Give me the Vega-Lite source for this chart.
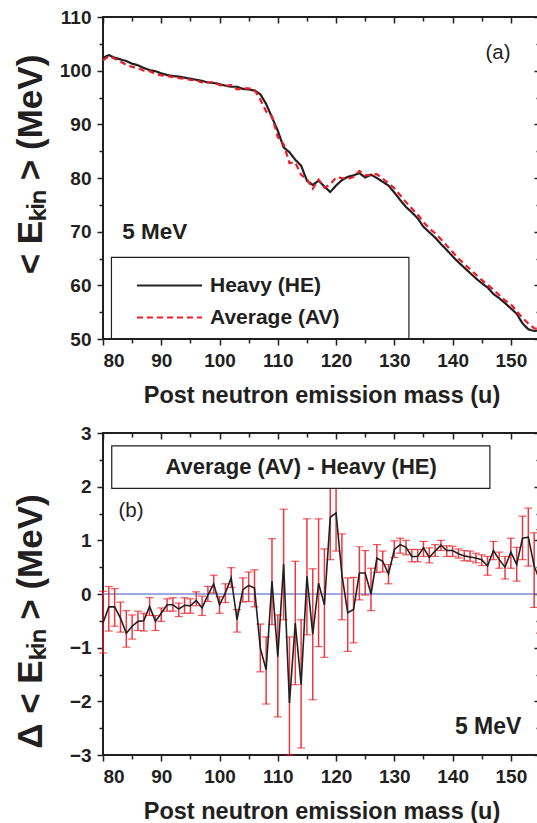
{
  "$schema": "https://vega.github.io/schema/vega-lite/v6.json",
  "padding": {"left": 12, "top": 7, "right": 0, "bottom": 0},
  "background": "white",
  "config": {
    "font": "Liberation Sans",
    "view": {"stroke": "#231f20", "strokeWidth": 2},
    "concat": {"spacing": 15},
    "axis": {
      "labelFont": "Liberation Sans", "labelFontSize": 19, "labelFontWeight": "bold", "labelColor": "#231f20",
      "titleFont": "Liberation Sans", "titleFontSize": 23.5, "titleFontWeight": "bold", "titleColor": "#231f20",
      "tickColor": "#231f20", "tickWidth": 1.5, "tickSize": 6, "domain": false, "grid": false, "labelPadding": 6
    }
  },
  "datasets": {
    "E": [
      {"m":80,"HE":102.4,"AV":101.9},{"m":81,"HE":102.9,"AV":102.7},{"m":82,"HE":102.4,"AV":102.2},{"m":83,"HE":102.1,"AV":101.7},
      {"m":84,"HE":101.8,"AV":101.1},{"m":85,"HE":101.3,"AV":100.7},{"m":86,"HE":101.0,"AV":100.5},{"m":87,"HE":100.5,"AV":100.0},
      {"m":88,"HE":100.1,"AV":99.9},{"m":89,"HE":99.9,"AV":99.4},{"m":90,"HE":99.5,"AV":99.1},{"m":91,"HE":99.2,"AV":99.0},
      {"m":92,"HE":99.0,"AV":98.8},{"m":93,"HE":98.9,"AV":98.6},{"m":94,"HE":98.7,"AV":98.5},{"m":95,"HE":98.5,"AV":98.3},
      {"m":96,"HE":98.3,"AV":98.2},{"m":97,"HE":98.1,"AV":97.8},{"m":98,"HE":97.8,"AV":97.8},{"m":99,"HE":97.7,"AV":97.9},
      {"m":100,"HE":97.5,"AV":97.3},{"m":101,"HE":97.2,"AV":97.2},{"m":102,"HE":97.0,"AV":97.3},{"m":103,"HE":97.0,"AV":96.5},
      {"m":104,"HE":96.6,"AV":96.7},{"m":105,"HE":96.5,"AV":96.7},{"m":106,"HE":96.3,"AV":96.4},{"m":107,"HE":95.6,"AV":94.6},
      {"m":108,"HE":93.8,"AV":92.4},{"m":109,"HE":91.3,"AV":91.5},{"m":110,"HE":88.8,"AV":87.6},{"m":111,"HE":85.7,"AV":86.3},
      {"m":112,"HE":84.8,"AV":82.8},{"m":113,"HE":83.4,"AV":82.9},{"m":114,"HE":82.3,"AV":80.6},{"m":115,"HE":79.5,"AV":79.8},
      {"m":116,"HE":78.7,"AV":78.0},{"m":117,"HE":79.5,"AV":79.7},{"m":118,"HE":78.4,"AV":78.2},{"m":119,"HE":77.4,"AV":78.8},
      {"m":120,"HE":78.6,"AV":80.1},{"m":121,"HE":79.6,"AV":80.0},{"m":122,"HE":80.2,"AV":79.8},{"m":123,"HE":80.5,"AV":80.2},
      {"m":124,"HE":80.9,"AV":81.3},{"m":125,"HE":80.1,"AV":80.5},{"m":126,"HE":80.6,"AV":80.6},{"m":127,"HE":80.0,"AV":80.7},
      {"m":128,"HE":79.3,"AV":79.9},{"m":129,"HE":78.6,"AV":79.0},{"m":130,"HE":77.3,"AV":78.1},{"m":131,"HE":75.9,"AV":76.8},
      {"m":132,"HE":74.6,"AV":75.5},{"m":133,"HE":73.6,"AV":74.3},{"m":134,"HE":72.5,"AV":73.2},{"m":135,"HE":70.9,"AV":71.8},
      {"m":136,"HE":69.9,"AV":70.6},{"m":137,"HE":68.9,"AV":69.7},{"m":138,"HE":67.7,"AV":68.6},{"m":139,"HE":66.6,"AV":67.4},
      {"m":140,"HE":65.4,"AV":66.2},{"m":141,"HE":64.3,"AV":65.0},{"m":142,"HE":63.3,"AV":64.0},{"m":143,"HE":62.3,"AV":63.0},
      {"m":144,"HE":61.3,"AV":62.0},{"m":145,"HE":60.4,"AV":61.0},{"m":146,"HE":59.6,"AV":60.1},{"m":147,"HE":58.4,"AV":59.2},
      {"m":148,"HE":57.6,"AV":58.2},{"m":149,"HE":56.7,"AV":57.2},{"m":150,"HE":55.7,"AV":56.5},{"m":151,"HE":54.7,"AV":55.2},
      {"m":152,"HE":52.9,"AV":53.9},{"m":153,"HE":51.8,"AV":52.9},{"m":154,"HE":51.5,"AV":52.0},{"m":155,"HE":51.6,"AV":51.8}
    ],
    "D": [
      {"m":80,"d":-0.54,"lo":-1.10,"hi":0.05},{"m":81,"d":-0.24,"lo":-0.69,"hi":0.14},{"m":82,"d":-0.24,"lo":-0.60,"hi":0.10},
      {"m":83,"d":-0.45,"lo":-0.71,"hi":-0.15},{"m":84,"d":-0.73,"lo":-0.99,"hi":-0.31},{"m":85,"d":-0.60,"lo":-0.84,"hi":-0.39},
      {"m":86,"d":-0.51,"lo":-0.68,"hi":-0.32},{"m":87,"d":-0.50,"lo":-0.69,"hi":-0.36},{"m":88,"d":-0.23,"lo":-0.40,"hi":-0.07},
      {"m":89,"d":-0.51,"lo":-0.68,"hi":-0.40},{"m":90,"d":-0.36,"lo":-0.51,"hi":-0.26},{"m":91,"d":-0.20,"lo":-0.32,"hi":-0.09},
      {"m":92,"d":-0.20,"lo":-0.32,"hi":-0.07},{"m":93,"d":-0.28,"lo":-0.42,"hi":-0.17},{"m":94,"d":-0.21,"lo":-0.36,"hi":-0.07},
      {"m":95,"d":-0.22,"lo":-0.36,"hi":-0.09},{"m":96,"d":-0.12,"lo":-0.22,"hi":0.04},{"m":97,"d":-0.26,"lo":-0.40,"hi":-0.04},
      {"m":98,"d":-0.02,"lo":-0.14,"hi":0.14},{"m":99,"d":0.19,"lo":0.02,"hi":0.35},{"m":100,"d":-0.20,"lo":-0.36,"hi":-0.05},
      {"m":101,"d":0.02,"lo":-0.16,"hi":0.19},{"m":102,"d":0.30,"lo":0.12,"hi":0.49},{"m":103,"d":-0.48,"lo":-0.71,"hi":-0.29},
      {"m":104,"d":0.08,"lo":-0.15,"hi":0.30},{"m":105,"d":0.16,"lo":-0.14,"hi":0.41},{"m":106,"d":0.11,"lo":-0.24,"hi":0.45},
      {"m":107,"d":-1.01,"lo":-1.45,"hi":-0.56},{"m":108,"d":-1.41,"lo":-2.05,"hi":-0.80},{"m":109,"d":0.24,"lo":-0.57,"hi":1.03},
      {"m":110,"d":-1.17,"lo":-2.29,"hi":-0.39},{"m":111,"d":0.56,"lo":-0.48,"hi":1.58},{"m":112,"d":-2.03,"lo":-3.0,"hi":-0.80},
      {"m":113,"d":-0.54,"lo":-1.69,"hi":0.61},{"m":114,"d":-1.69,"lo":-2.87,"hi":-0.48},{"m":115,"d":0.33,"lo":-0.76,"hi":1.40},
      {"m":116,"d":-0.75,"lo":-1.97,"hi":0.47},{"m":117,"d":0.20,"lo":-0.98,"hi":1.40},{"m":118,"d":-0.20,"lo":-1.18,"hi":0.84},
      {"m":119,"d":1.43,"lo":0.64,"hi":2.2},{"m":120,"d":1.51,"lo":0.80,"hi":2.3},{"m":121,"d":0.36,"lo":-0.48,"hi":1.12},
      {"m":122,"d":-0.35,"lo":-1.07,"hi":0.30},{"m":123,"d":-0.29,"lo":-0.91,"hi":0.31},{"m":124,"d":0.39,"lo":-0.11,"hi":0.88},
      {"m":125,"d":0.39,"lo":-0.02,"hi":0.81},{"m":126,"d":0.00,"lo":-0.31,"hi":0.48},{"m":127,"d":0.67,"lo":0.40,"hi":0.92},
      {"m":128,"d":0.61,"lo":0.41,"hi":0.80},{"m":129,"d":0.37,"lo":0.19,"hi":0.55},{"m":130,"d":0.83,"lo":0.68,"hi":0.99},
      {"m":131,"d":0.92,"lo":0.76,"hi":1.04},{"m":132,"d":0.87,"lo":0.73,"hi":1.00},{"m":133,"d":0.70,"lo":0.60,"hi":0.83},
      {"m":134,"d":0.70,"lo":0.60,"hi":0.83},{"m":135,"d":0.86,"lo":0.70,"hi":0.98},{"m":136,"d":0.68,"lo":0.58,"hi":0.86},
      {"m":137,"d":0.80,"lo":0.70,"hi":0.92},{"m":138,"d":0.91,"lo":0.81,"hi":1.00},{"m":139,"d":0.81,"lo":0.70,"hi":0.90},
      {"m":140,"d":0.81,"lo":0.70,"hi":0.89},{"m":141,"d":0.75,"lo":0.67,"hi":0.84},{"m":142,"d":0.71,"lo":0.62,"hi":0.81},
      {"m":143,"d":0.69,"lo":0.61,"hi":0.80},{"m":144,"d":0.67,"lo":0.58,"hi":0.76},{"m":145,"d":0.64,"lo":0.53,"hi":0.73},
      {"m":146,"d":0.52,"lo":0.35,"hi":0.70},{"m":147,"d":0.81,"lo":0.64,"hi":0.98},{"m":148,"d":0.64,"lo":0.48,"hi":0.78},
      {"m":149,"d":0.50,"lo":0.28,"hi":0.70},{"m":150,"d":0.78,"lo":0.48,"hi":1.04},{"m":151,"d":0.55,"lo":0.24,"hi":0.87},
      {"m":152,"d":1.04,"lo":0.64,"hi":1.45},{"m":153,"d":1.06,"lo":0.52,"hi":1.60},{"m":154,"d":0.52,"lo":-0.25,"hi":1.14},
      {"m":155,"d":0.24,"lo":-0.73,"hi":1.2}
    ]
  },
  "vconcat": [
    {
      "width": 437, "height": 322,
      "resolve": {"axis": {"x": "independent", "y": "independent"}},
      "layer": [
        {
          "data": {"name": "E"},
          "transform": [{"fold": ["HE", "AV"], "as": ["s", "v"]}],
          "mark": {"type": "line", "strokeWidth": 2.2},
          "encoding": {
            "x": {"field": "m", "type": "quantitative", "scale": {"domain": [80, 155], "nice": false, "zero": false},
                  "axis": {"orient": "bottom", "values": [80, 90, 100, 110, 120, 130, 140, 150], "title": "Post neutron emission mass (u)", "titlePadding": 13}},
            "y": {"field": "v", "type": "quantitative", "scale": {"domain": [50, 110], "nice": false, "zero": false},
                  "axis": {"orient": "left", "values": [50, 60, 70, 80, 90, 100, 110], "title": "< Eₖᵢₙ > (MeV)", "titleFontSize": 35, "titleX": -73, "titleY": 147, "titleBaseline": "middle"}},
            "color": {"field": "s", "type": "nominal", "scale": {"domain": ["HE", "AV"], "range": ["#231f20", "#ee1c25"]},
                      "legend": {"title": null, "orient": "none", "legendX": 49, "legendY": 251, "symbolType": "M-2,0H2", "symbolSize": 1056, "symbolStrokeWidth": 2.2, "labelFont": "Liberation Sans", "labelFontSize": 21, "labelFontWeight": "bold", "labelColor": "#231f20", "labelOffset": 23, "rowPadding": 4, "padding": 0, "labelExpr": "datum.label == 'HE' ? 'Heavy (HE)' : 'Average (AV)'"}},
            "strokeDash": {"field": "s", "type": "nominal", "scale": {"domain": ["HE", "AV"], "range": [[1, 0], [6, 4]]},
                      "legend": {"title": null, "orient": "none", "legendX": 49, "legendY": 251, "symbolType": "M-2,0H2", "symbolSize": 1056, "symbolStrokeWidth": 2.2, "labelFont": "Liberation Sans", "labelFontSize": 21, "labelFontWeight": "bold", "labelColor": "#231f20", "labelOffset": 23, "rowPadding": 4, "padding": 0, "labelExpr": "datum.label == 'HE' ? 'Heavy (HE)' : 'Average (AV)'"}}
          }
        },
        {
          "data": {"values": [{"m": 147.8, "v": 103.2, "t": "(a)"}]},
          "mark": {"type": "text", "fontSize": 20.5, "font": "Liberation Sans", "color": "#231f20", "align": "center", "baseline": "middle"},
          "encoding": {
            "x": {"field": "m", "type": "quantitative", "axis": {"orient": "bottom", "values": [85, 95, 105, 115, 125, 135, 145], "labels": false, "tickSize": 4, "title": null}},
            "y": {"field": "v", "type": "quantitative", "axis": {"orient": "left", "values": [55, 65, 75, 85, 95, 105], "labels": false, "tickSize": 4, "title": null}},
            "text": {"field": "t"}
          }
        },
        {
          "data": {"values": [{"m": 83.3, "v": 70.0, "t": "5 MeV"}]},
          "mark": {"type": "text", "fontSize": 22.5, "fontWeight": "bold", "font": "Liberation Sans", "color": "#231f20", "align": "left", "baseline": "middle"},
          "encoding": {
            "x": {"field": "m", "type": "quantitative", "axis": {"orient": "top", "values": [80, 90, 100, 110, 120, 130, 140, 150], "labels": false, "tickSize": -6, "title": null}},
            "y": {"field": "v", "type": "quantitative", "axis": {"orient": "right", "values": [50, 60, 70, 80, 90, 100, 110], "labels": false, "tickSize": -6, "title": null}},
            "text": {"field": "t"}
          }
        },
        {
          "data": {"values": [{"x1": 81.45, "x2": 132.5, "y1": 50, "y2": 65.2}]},
          "mark": {"type": "rect", "fill": null, "fillOpacity": 0, "stroke": "#231f20", "strokeWidth": 1.2},
          "encoding": {
            "x": {"field": "x1", "type": "quantitative", "axis": {"orient": "top", "values": [85, 95, 105, 115, 125, 135, 145], "labels": false, "tickSize": -4, "title": null}},
            "x2": {"field": "x2"},
            "y": {"field": "y1", "type": "quantitative", "axis": {"orient": "right", "values": [55, 65, 75, 85, 95, 105], "labels": false, "tickSize": -4, "title": null}},
            "y2": {"field": "y2"}
          }
        }
      ]
    },
    {
      "width": 437, "height": 322,
      "resolve": {"axis": {"x": "independent", "y": "independent"}},
      "layer": [
        {
          "data": {"values": [{"z": 0}]},
          "mark": {"type": "rule", "color": "#7b8fd0", "strokeWidth": 1.5},
          "encoding": {"y": {"field": "z", "type": "quantitative", "scale": {"domain": [-3, 3], "nice": false, "zero": false}, "axis": null}}
        },
        {
          "data": {"name": "D"},
          "mark": {"type": "errorbar", "color": "#e8161e", "ticks": {"size": 8, "thickness": 1.2}, "rule": {"strokeWidth": 1.5, "opacity": 0.85}},
          "encoding": {
            "x": {"field": "m", "type": "quantitative", "scale": {"domain": [80, 155], "nice": false, "zero": false},
                  "axis": {"orient": "bottom", "values": [80, 90, 100, 110, 120, 130, 140, 150], "title": "Post neutron emission mass (u)", "titlePadding": 13}},
            "y": {"field": "lo", "type": "quantitative", "scale": {"domain": [-3, 3], "nice": false, "zero": false},
                  "axis": {"orient": "left", "values": [-3, -2, -1, 0, 1, 2, 3], "title": "Δ < Eₖᵢₙ > (MeV)", "titleFontSize": 35, "titleX": -73, "titleY": 188, "titleBaseline": "middle"}},
            "y2": {"field": "hi"}
          }
        },
        {
          "data": {"name": "D"},
          "mark": {"type": "line", "color": "#231f20", "strokeWidth": 1.6},
          "encoding": {
            "x": {"field": "m", "type": "quantitative", "axis": {"orient": "bottom", "values": [85, 95, 105, 115, 125, 135, 145], "labels": false, "tickSize": 4, "title": null}},
            "y": {"field": "d", "type": "quantitative", "axis": {"orient": "left", "values": [-2.5, -1.5, -0.5, 0.5, 1.5, 2.5], "labels": false, "tickSize": 4, "title": null}}
          }
        },
        {
          "data": {"values": [{"x1": 81.5, "x2": 146.4, "y1": 1.97, "y2": 2.76}]},
          "mark": {"type": "rect", "fill": "white", "stroke": "#231f20", "strokeWidth": 1.2},
          "encoding": {
            "x": {"field": "x1", "type": "quantitative", "axis": {"orient": "top", "values": [80, 90, 100, 110, 120, 130, 140, 150], "labels": false, "tickSize": -6, "title": null}},
            "x2": {"field": "x2"},
            "y": {"field": "y1", "type": "quantitative", "axis": {"orient": "right", "values": [-3, -2, -1, 0, 1, 2, 3], "labels": false, "tickSize": -6, "title": null}},
            "y2": {"field": "y2"}
          }
        },
        {
          "data": {"values": [{"m": 114.0, "v": 2.37, "t": "Average (AV) - Heavy (HE)"}]},
          "mark": {"type": "text", "fontSize": 22, "fontWeight": "bold", "font": "Liberation Sans", "color": "#231f20", "align": "center", "baseline": "middle"},
          "encoding": {
            "x": {"field": "m", "type": "quantitative", "axis": {"orient": "top", "values": [85, 95, 105, 115, 125, 135, 145], "labels": false, "tickSize": -4, "title": null}},
            "y": {"field": "v", "type": "quantitative", "axis": {"orient": "right", "values": [-2.5, -1.5, -0.5, 0.5, 1.5, 2.5], "labels": false, "tickSize": -4, "title": null}},
            "text": {"field": "t"}
          }
        },
        {
          "data": {"values": [{"m": 84.8, "v": 1.54, "t": "(b)"}]},
          "mark": {"type": "text", "fontSize": 20.5, "font": "Liberation Sans", "color": "#231f20", "align": "center", "baseline": "middle"},
          "encoding": {
            "x": {"field": "m", "type": "quantitative", "axis": null},
            "y": {"field": "v", "type": "quantitative", "axis": null},
            "text": {"field": "t"}
          }
        },
        {
          "data": {"values": [{"m": 146.1, "v": -2.48, "t": "5 MeV"}]},
          "mark": {"type": "text", "fontSize": 23, "fontWeight": "bold", "font": "Liberation Sans", "color": "#231f20", "align": "center", "baseline": "middle"},
          "encoding": {
            "x": {"field": "m", "type": "quantitative", "axis": null},
            "y": {"field": "v", "type": "quantitative", "axis": null},
            "text": {"field": "t"}
          }
        }
      ]
    }
  ]
}
